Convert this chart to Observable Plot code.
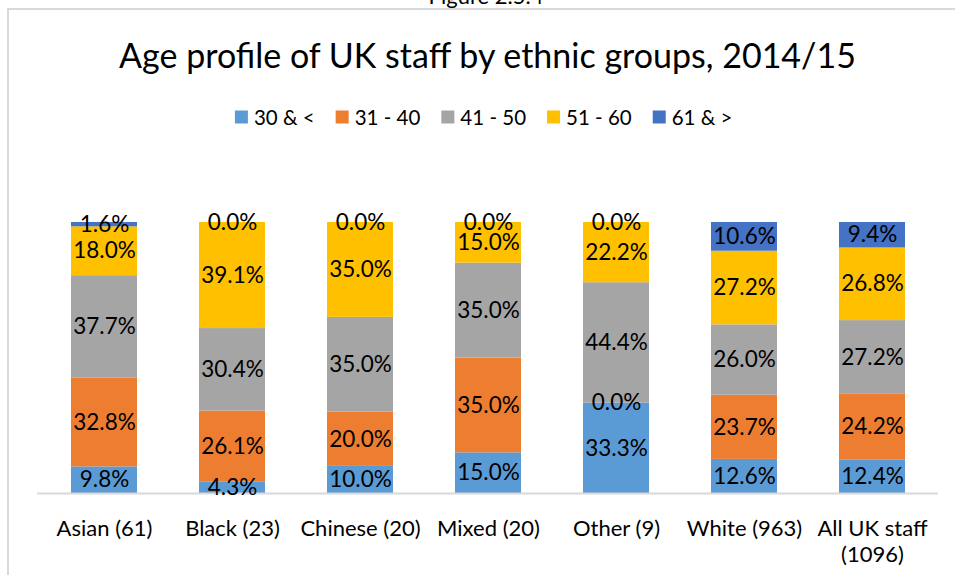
<!DOCTYPE html>
<html><head><meta charset="utf-8">
<script src="https://cdn.jsdelivr.net/npm/d3@7"></script>
<script src="https://cdn.jsdelivr.net/npm/@observablehq/plot@0.6"></script>
<style>
body{margin:0;background:#fff;}
#wrap{position:relative;width:955px;height:575px;overflow:hidden;font-family:Lato,sans-serif;background:#fff;}
#frame{position:absolute;left:7px;top:8px;width:1000px;height:600px;border-top:2px solid #d9d9d9;border-left:2px solid #d9d9d9;box-sizing:border-box;}
#chart{position:absolute;left:0;top:0;}
#overlay{position:absolute;left:0;top:0;pointer-events:none;}
</style>
</head><body>
<div id="wrap"><div id="frame"></div><div id="chart"></div><svg id="overlay" width="955" height="575"></svg></div>
<script>
const figureLabel = "Figure 2.5.4";
const title = "Age profile of UK staff by ethnic groups, 2014/15";
const categories = ["Asian (61)","Black (23)","Chinese (20)","Mixed (20)","Other (9)","White (963)","All UK staff\n(1096)"];
const ageGroups = ["30 & <","31 - 40","41 - 50","51 - 60","61 & >"];
const colors = ["#5B9BD5","#ED7D31","#A5A5A5","#FFC000","#4472C4"];
const age30under = [9.8,4.3,10.0,15.0,33.3,12.6,12.4];
const age31to40  = [32.8,26.1,20.0,35.0,0.0,23.7,24.2];
const age41to50  = [37.7,30.4,35.0,35.0,44.4,26.0,27.2];
const age51to60  = [18.0,39.1,35.0,15.0,22.2,27.2,26.8];
const age61over  = [1.6,0.0,0.0,0.0,0.0,10.6,9.4];

const series = [age30under, age31to40, age41to50, age51to60, age61over];
const rows = [];
series.forEach((vals, si) => vals.forEach((v, ci) => rows.push({category: categories[ci], age: ageGroups[si], value: v})));

const chart = Plot.plot({
  width: 955, height: 575,
  marginTop: 222, marginBottom: 82, marginLeft: 37, marginRight: 17,
  style: {fontFamily: "Lato, sans-serif", background: "transparent", color: "#000"},
  x: {domain: categories, paddingInner: 0.487, paddingOuter: 0.2435, label: null},
  y: {domain: [0, 1], axis: null},
  color: {domain: ageGroups, range: colors},
  marks: [
    Plot.barY(rows, Plot.stackY({offset: "normalize"}, {x: "category", y: "value", z: "age", fill: "age"})),
    Plot.ruleY([0], {stroke: "#d9d9d9", strokeWidth: 2}),
    Plot.text(rows, Plot.stackY({offset: "normalize"}, {x: "category", y: "value", z: "age", text: d => d.value.toFixed(1) + "%", fontSize: 22.5, fill: "#000"})),
    Plot.axisX({tickSize: 0, tickPadding: 23, fontSize: 22, lineHeight: 1.22, label: null, fill: "#000"})
  ]
});
document.getElementById("chart").appendChild(chart);

const svg = d3.select("#overlay");
svg.append("text").attr("x", 486).attr("y", 4).attr("text-anchor", "middle")
  .attr("font-size", 22).attr("font-family", "Lato, sans-serif").text(figureLabel);
svg.append("text").attr("x", 487.5).attr("y", 68).attr("text-anchor", "middle")
  .attr("font-size", 34).attr("font-family", "Lato, sans-serif").text(title);

const lg = svg.append("g").attr("font-family", "Lato, sans-serif").attr("font-size", 20.5);
let cx = 0;
ageGroups.forEach((g, i) => {
  lg.append("rect").attr("x", cx).attr("y", 110.5).attr("width", 13).attr("height", 13).attr("fill", colors[i]);
  const t = lg.append("text").attr("x", cx + 19).attr("y", 124.5).text(g);
  cx += 19 + t.node().getComputedTextLength() + 21;
});
const total = cx - 21;
lg.attr("transform", `translate(${483.7 - total / 2},0)`);
</script>
</body></html>
